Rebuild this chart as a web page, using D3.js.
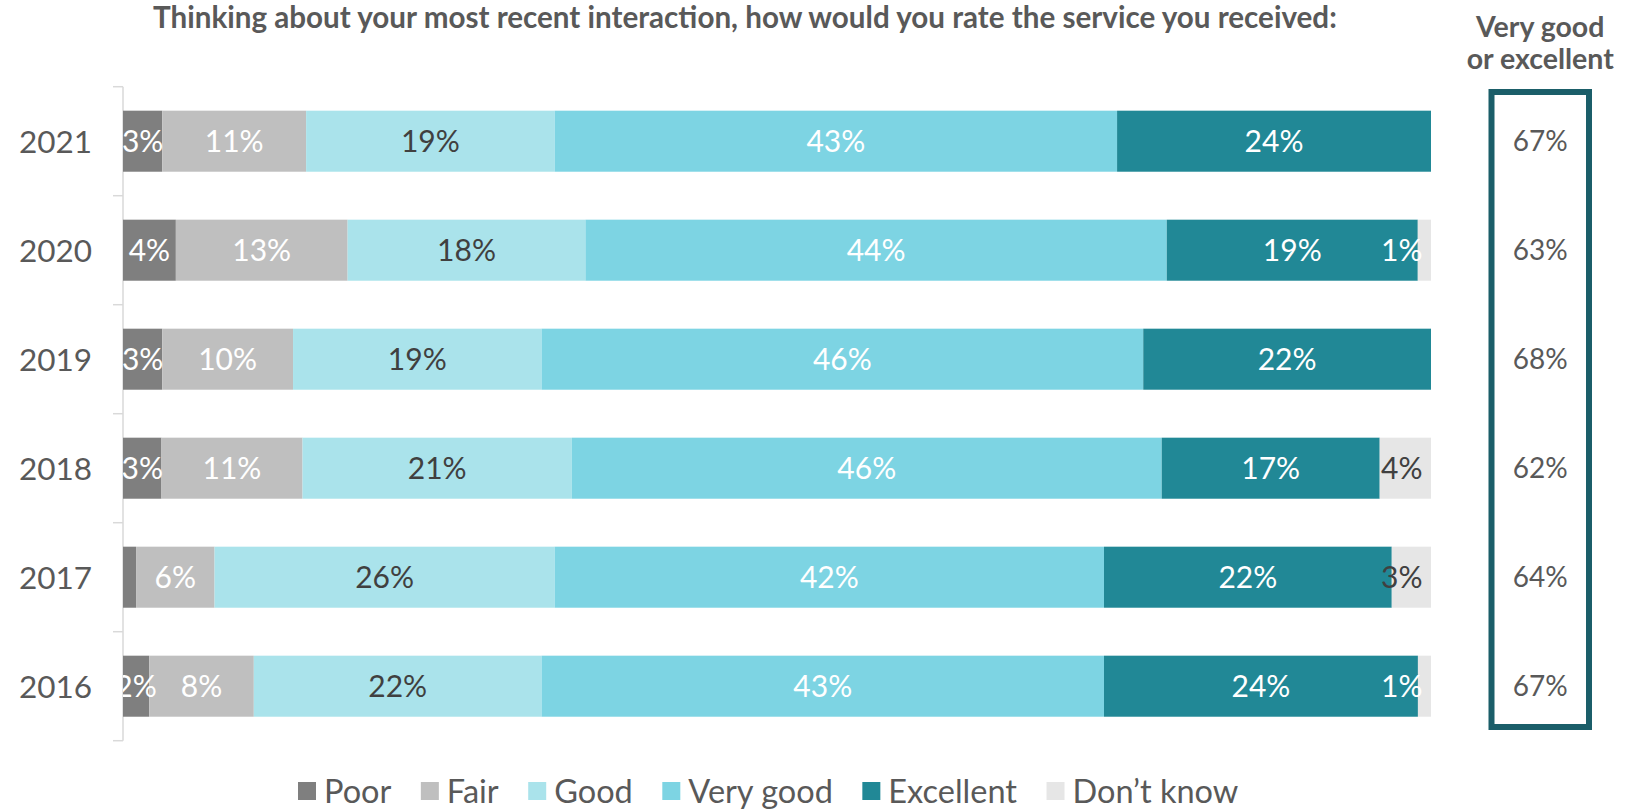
<!DOCTYPE html>
<html>
<head>
<meta charset="utf-8">
<script src="https://cdn.jsdelivr.net/npm/d3@7"></script>
<style>
  html, body { margin: 0; padding: 0; background: #ffffff; }
  svg { display: block; font-family: Lato, "Open Sans", sans-serif; }
</style>
</head>
<body>
<svg id="chart" width="1631" height="811"></svg>
<script>
// Survey responses by year (percent of respondents)
const years      = ["2021", "2020", "2019", "2018", "2017", "2016"];
const poor       = [3, 4, 3, 3, 1, 2];
const fair       = [11, 13, 10, 11, 6, 8];
const good       = [19, 18, 19, 21, 26, 22];
const veryGood   = [43, 44, 46, 46, 42, 43];
const excellent  = [24, 19, 22, 17, 22, 24];
const dontKnow   = [0, 1, 0, 4, 3, 1];
// Share answering "very good" or "excellent", as reported
const topTwo     = [67, 63, 68, 62, 64, 67];

const seriesNames = ["Poor", "Fair", "Good", "Very good", "Excellent", "Don\u2019t know"];
const seriesValues = [poor, fair, good, veryGood, excellent, dontKnow];
const seriesColors = ["#7f7f7f", "#bfbfbf", "#aae3eb", "#7dd4e3", "#218896", "#e6e6e6"];
const labelColors  = ["#ffffff", "#ffffff", "#404040", "#ffffff", "#ffffff", "#404040"];
// Segments whose value label is left off
const unlabelled = [["2017", "Poor"]];

const titleText = "Thinking about your most recent interaction, how would you rate the service you received:";
const sideTitle = ["Very good", "or excellent"];

// Build row objects for the stack layout
const rows = years.map((y, i) => {
  const r = { year: y };
  seriesNames.forEach((s, j) => { r[s] = seriesValues[j][i]; });
  return r;
});

const svg = d3.select("#chart");
const textGrey = "#595959";

const x = d3.scaleLinear().domain([0, 1]).range([123, 1431]);
const yOuter = d3.scaleBand().domain(years).range([86.7, 740.7]).paddingInner(0).paddingOuter(0);
const y = d3.scaleBand().domain(years).range([86.7, 740.7]).paddingInner(0.44).paddingOuter(0.22);
const color = d3.scaleOrdinal().domain(seriesNames).range(seriesColors);
const labelColor = d3.scaleOrdinal().domain(seriesNames).range(labelColors);

const stacked = d3.stack().keys(seriesNames).offset(d3.stackOffsetExpand)(rows);

// Title
svg.append("text")
  .attr("x", 153).attr("y", 28)
  .attr("font-weight", 700).attr("font-size", 29.6)
  .attr("fill", textGrey)
  .text(titleText);

// Category axis: line plus ticks at band boundaries
const axis = svg.append("g").attr("class", "axis");
axis.append("line")
  .attr("x1", x(0)).attr("x2", x(0))
  .attr("y1", yOuter.range()[0]).attr("y2", yOuter.range()[1])
  .attr("stroke", "#d9d9d9").attr("stroke-width", 1.5);
const tickYs = years.map(d => yOuter(d)).concat([yOuter.range()[1]]);
axis.selectAll("line.tick").data(tickYs).join("line")
  .attr("class", "tick")
  .attr("x1", x(0) - 10).attr("x2", x(0))
  .attr("y1", d => d).attr("y2", d => d)
  .attr("stroke", "#d9d9d9").attr("stroke-width", 1.5);
axis.selectAll("text").data(years).join("text")
  .attr("x", 92)
  .attr("y", d => y(d) + y.bandwidth() / 2)
  .attr("dy", "0.36em")
  .attr("text-anchor", "end")
  .attr("font-size", 31.5)
  .attr("fill", textGrey)
  .text(d => d);

// Stacked bars
const layers = svg.append("g").selectAll("g").data(stacked).join("g")
  .attr("fill", d => color(d.key));
layers.selectAll("rect").data(d => d.map(p => ({ key: d.key, p }))).join("rect")
  .attr("x", d => x(d.p[0]))
  .attr("y", d => y(d.p.data.year))
  .attr("width", d => x(d.p[1]) - x(d.p[0]))
  .attr("height", y.bandwidth());

// Value labels, clipped to the plot area
svg.append("clipPath").attr("id", "plotClip")
  .append("rect").attr("x", x(0)).attr("y", 0).attr("width", 1600 - x(0)).attr("height", 811);

const isHidden = (year, key) => unlabelled.some(u => u[0] === year && u[1] === key);
const labelData = [];
stacked.forEach(layer => {
  layer.forEach(p => {
    const v = p.data[layer.key];
    if (!v || isHidden(p.data.year, layer.key)) return;
    labelData.push({ key: layer.key, value: v, year: p.data.year, x0: x(p[0]), x1: x(p[1]) });
  });
});
const lastKey = seriesNames[seriesNames.length - 1];
svg.append("g").attr("clip-path", "url(#plotClip)")
  .selectAll("text").data(labelData).join("text")
  .attr("x", d => d.key === lastKey ? d.x1 - 8.5 : (d.x0 + d.x1) / 2)
  .attr("y", d => y(d.year) + y.bandwidth() / 2)
  .attr("dy", "0.36em")
  .attr("text-anchor", d => d.key === lastKey ? "end" : "middle")
  .attr("font-size", 30)
  .attr("fill", d => (d.key === lastKey && d.value < 2) ? "#ffffff" : labelColor(d.key))
  .text(d => d.value + "%");

// Side panel: "very good or excellent" totals
const boxX = 1491.5, boxW = 97.5;
svg.append("g").selectAll("text").data(sideTitle).join("text")
  .attr("x", boxX + boxW / 2)
  .attr("y", (d, i) => 37 + i * 32.3)
  .attr("text-anchor", "middle")
  .attr("font-weight", 700).attr("font-size", 28.5)
  .attr("fill", textGrey)
  .text(d => d);
svg.append("rect")
  .attr("x", boxX).attr("y", 92)
  .attr("width", boxW).attr("height", 635)
  .attr("fill", "none")
  .attr("stroke", "#1b5e69").attr("stroke-width", 6);
svg.append("g").selectAll("text").data(years).join("text")
  .attr("x", boxX + boxW / 2)
  .attr("y", d => y(d) + y.bandwidth() / 2)
  .attr("dy", "0.36em")
  .attr("text-anchor", "middle")
  .attr("font-size", 28)
  .attr("fill", textGrey)
  .text((d, i) => topTwo[i] + "%");

// Legend
const legend = svg.append("g").attr("transform", "translate(298, 791)");
let lx = 0;
seriesNames.forEach((name, i) => {
  const g = legend.append("g").attr("transform", `translate(${lx},0)`);
  g.append("rect").attr("x", 0).attr("y", -9).attr("width", 18).attr("height", 18)
    .attr("fill", color(name));
  const t = g.append("text").attr("x", 26).attr("y", 0).attr("dy", "0.36em")
    .attr("font-size", 32.5).attr("fill", textGrey).text(name);
  lx += 26 + t.node().getComputedTextLength() + 29.5;
});
</script>
</body>
</html>
